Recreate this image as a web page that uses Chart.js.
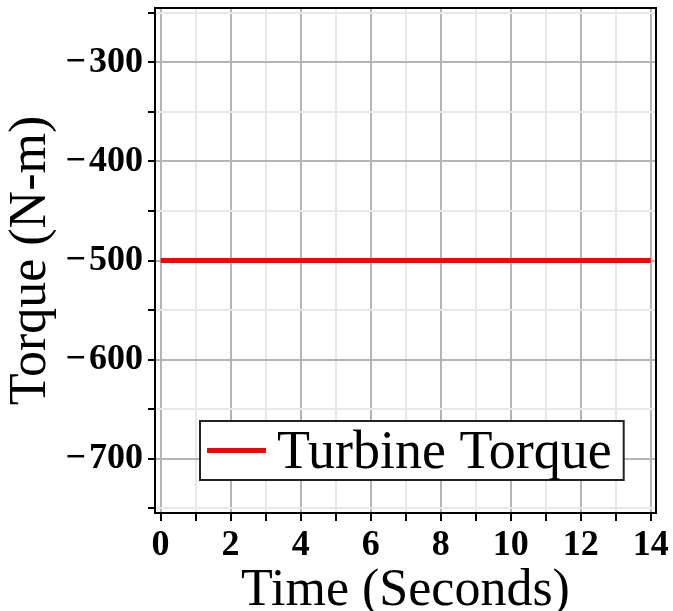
<!DOCTYPE html>
<html>
<head>
<meta charset="utf-8">
<title>Turbine Torque</title>
<script src="https://cdn.jsdelivr.net/npm/chart.js@4.4.1/dist/chart.umd.min.js"></script>
<style>
  html, body { margin: 0; padding: 0; background: #fff; }
  #torque-chart { display: block; }
</style>
</head>
<body>
<canvas id="torque-chart" width="673" height="611"></canvas>
<script>
// Time axis samples (s) and the constant turbine torque (N-m)
const timeSeconds = [0, 2, 4, 6, 8, 10, 12, 14];
const turbineTorque = [-500, -500, -500, -500, -500, -500, -500, -500];

// Axis ranges, tick positions and the ticks that carry a label
const timeRange = [-0.16, 14.15];
const torqueRange = [-755, -245];
const timeTicks = [0, 1, 2, 3, 4, 5, 6, 7, 8, 9, 10, 11, 12, 13, 14];
const torqueTicks = [-750, -700, -650, -600, -550, -500, -450, -400, -350, -300, -250];
const timeTickLabels = [0, 2, 4, 6, 8, 10, 12, 14];
const torqueTickLabels = [-300, -400, -500, -600, -700];

const MAJOR_GRID = "#b4b4b4";
const MINOR_GRID = "#e8e8e8";
const SERIF = '"Liberation Serif"';

// Black box around the plot area (top + right sides too)
const frameBox = {
    id: "frameBox",
    afterDatasetsDraw(chart) {
        const { ctx, chartArea: a } = chart;
        ctx.save();
        ctx.strokeStyle = "#000";
        ctx.lineWidth = 2;
        ctx.strokeRect(a.left, a.top, a.right - a.left, a.bottom - a.top);
        ctx.restore();
    }
};

// Boxed legend sitting inside the plot, lower left
const boxedLegend = {
    id: "boxedLegend",
    afterDraw(chart) {
        const { ctx, chartArea: a } = chart;
        const ds = chart.data.datasets[0];
        ctx.save();
        ctx.font = "54px " + SERIF;
        const tw = ctx.measureText(ds.label).width;
        const x = a.left + 45, y = a.top + 413, h = 59;
        const w = 77 + tw + 12;
        ctx.fillStyle = "#fff";
        ctx.fillRect(x, y, w, h);
        ctx.strokeStyle = "#222";
        ctx.lineWidth = 2;
        ctx.strokeRect(x, y, w, h);
        ctx.strokeStyle = ds.borderColor;
        ctx.lineWidth = ds.borderWidth;
        ctx.beginPath();
        ctx.moveTo(x + 7, y + h / 2);
        ctx.lineTo(x + 66, y + h / 2);
        ctx.stroke();
        ctx.fillStyle = "#000";
        ctx.textBaseline = "middle";
        ctx.fillText(ds.label, x + 77, y + h / 2 + 3);
        ctx.restore();
    }
};

const ctx = document.getElementById("torque-chart").getContext("2d");

new Chart(ctx, {
    type: "line",
    data: {
        datasets: [{
            label: "Turbine Torque",
            data: timeSeconds.map((t, i) => ({ x: t, y: turbineTorque[i] })),
            borderColor: "#ff0000",
            borderWidth: 5,
            pointRadius: 0,
            fill: false,
            tension: 0
        }]
    },
    options: {
        responsive: false,
        animation: false,
        layout: { padding: { top: 8, right: 17, left: 0, bottom: 0 } },
        plugins: {
            legend: { display: false },
            tooltip: { enabled: false }
        },
        scales: {
            x: {
                type: "linear",
                min: timeRange[0],
                max: timeRange[1],
                afterBuildTicks(scale) {
                    scale.ticks = timeTicks.map(v => ({ value: v }));
                },
                afterFit(scale) {
                    scale.height = 98;
                    scale.paddingLeft = 0;
                    scale.paddingRight = 0;
                },
                border: { color: "#000", width: 2 },
                grid: {
                    color: c => c.tick.value % 2 === 0 ? MAJOR_GRID : MINOR_GRID,
                    lineWidth: 2,
                    tickColor: "#000",
                    tickLength: 8,
                    tickWidth: 2
                },
                ticks: {
                    autoSkip: false,
                    maxRotation: 0,
                    padding: 3,
                    color: "#000",
                    font: { family: SERIF, size: 36, weight: "bold" },
                    callback: v => timeTickLabels.includes(v) ? String(v) : ""
                },
                title: {
                    display: true,
                    text: "Time (Seconds)",
                    color: "#000",
                    padding: { top: 0, bottom: -12 },
                    font: { family: SERIF, size: 52 }
                }
            },
            y: {
                type: "linear",
                min: torqueRange[0],
                max: torqueRange[1],
                afterBuildTicks(scale) {
                    scale.ticks = torqueTicks.map(v => ({ value: v }));
                },
                afterFit(scale) {
                    scale.width = 155;
                    scale.paddingTop = 0;
                    scale.paddingBottom = 0;
                },
                border: { color: "#000", width: 2 },
                grid: {
                    color: c => c.tick.value % 100 === 0 ? MAJOR_GRID : MINOR_GRID,
                    lineWidth: 2,
                    tickColor: "#000",
                    tickLength: 7,
                    tickWidth: 2
                },
                ticks: {
                    autoSkip: false,
                    padding: 5,
                    color: "#000",
                    font: { family: SERIF, size: 36, weight: "bold" },
                    callback: v => torqueTickLabels.includes(v) ? "\u2212\u200A" + Math.abs(v) : ""
                },
                title: {
                    display: true,
                    text: "Torque (N-m)",
                    color: "#000",
                    padding: { top: 0, bottom: 0 },
                    font: { family: SERIF, size: 52 }
                }
            }
        }
    },
    plugins: [frameBox, boxedLegend]
});
</script>
</body>
</html>
